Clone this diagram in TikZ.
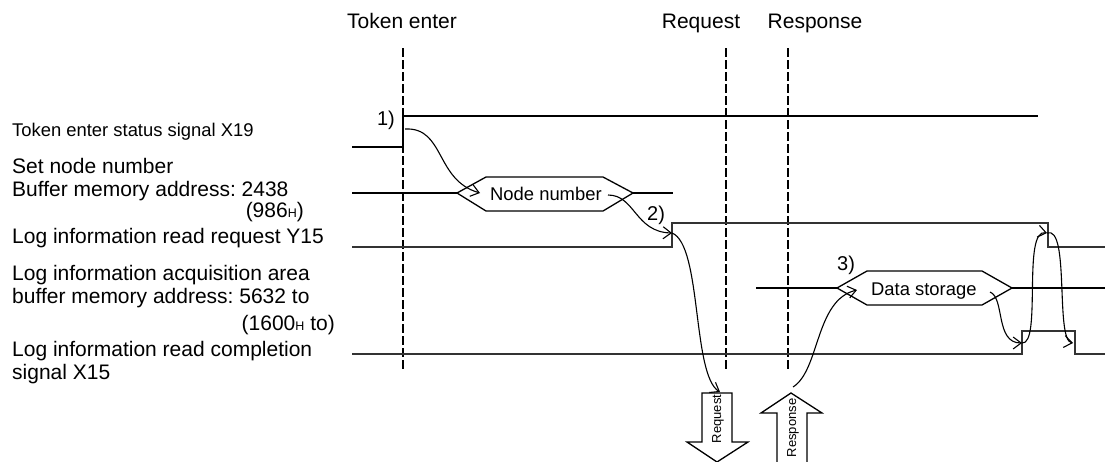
\documentclass[tikz,border=0pt]{standalone}
\usepackage{fontspec}
\setmainfont{Liberation Sans}
\usetikzlibrary{arrows.meta}
\frenchspacing
\newcommand{\bigtxt}{\fontsize{21}{24}\selectfont}
\newcommand{\smalltxt}{\fontsize{18.4}{21}\selectfont}
\newcommand{\tinytxt}{\fontsize{13}{15}\selectfont}
\newcommand{\subH}{{\fontsize{12.5}{14}\selectfont H}}
\tikzset{
  lbl/.style={inner sep=0pt, anchor=base west, font=\bigtxt},
  hdr/.style={inner sep=0pt, anchor=base, font=\bigtxt},
  guide/.style={line width=1.8pt, dash pattern=on 9pt off 3pt},
  sig/.style={line width=1.3pt, draw=black!80},
  bus/.style={line width=1.8pt},
  hexa/.style={line width=1.3pt, fill=white},
  flow/.style={line width=1.1pt, -{Straight Barb[length=8pt,width=12pt,line width=1.1pt]}},
  bigarrow/.style={line width=1.3pt, fill=white},
}
\begin{document}
\begin{tikzpicture}[x=1pt,y=-1pt]
\useasboundingbox (0,0) rectangle (1105,461);

% headers
\node[hdr] (hToken) at (402,28) {Token enter};
\node[hdr] (hReq) at (701,28) {Request};
\node[hdr] (hResp) at (815,28) {Response};

% guide lines
\coordinate (gT1) at (403,48); \coordinate (gT2) at (403,369);
\coordinate (gR1) at (726,48); \coordinate (gR2) at (726,369);
\coordinate (gS1) at (788,48); \coordinate (gS2) at (788,369);
\draw[guide] (gT1) -- (gT2);
\draw[guide] (gR1) -- (gR2);
\draw[guide] (gS1) -- (gS2);

% left labels
\node[lbl, font=\smalltxt] (lX19) at (12,136) {Token enter status signal X19};
\node[lbl] (lSet1) at (12,173) {Set node number};
\node[lbl] (lSet2) at (12,196) {Buffer memory address: 2438};
\node[lbl, anchor=base east] (lSet3) at (304,217) {(986\subH)};
\node[lbl] (lY15) at (12,243) {Log information read request Y15};
\node[lbl] (lAcq1) at (12,280) {Log information acquisition area};
\node[lbl] (lAcq2) at (12,303) {buffer memory address: 5632 to};
\node[lbl, anchor=base east] (lAcq3) at (335,330) {(1600\subH{} to)};
\node[lbl] (lX15a) at (12,356) {Log information read completion};
\node[lbl] (lX15b) at (12,379) {signal X15};

% X19 signal
\coordinate (x19a) at (352,147);
\coordinate (x19b) at (403,147);
\coordinate (x19c) at (403,116);
\coordinate (x19d) at (1038,116);
\draw[sig, draw=black] (x19a) -- (x19b) -- (x19c) -- (x19d);

% node number bus
\coordinate (nbA) at (352,193);
\coordinate (nbL) at (457,193);
\coordinate (nbR) at (633,193);
\coordinate (nbB) at (673,193);
\draw[bus] (nbA) -- (nbL);
\draw[bus] (nbR) -- (nbB);
\draw[hexa] (nbL) -- (486,177) -- (603,177) -- (nbR) -- (603,211) -- (486,211) -- cycle;
\node[inner sep=0pt, anchor=base west, font=\smalltxt] (nodenum) at (490,200) {Node number};

% Y15 signal
\coordinate (y15a) at (352,247);
\coordinate (y15b) at (672,247);
\coordinate (y15c) at (672,223);
\coordinate (y15d) at (1048,223);
\coordinate (y15e) at (1048,247);
\coordinate (y15f) at (1105,247);
\draw[sig] (y15a) -- (y15b) -- (y15c) -- (y15d) -- (y15e) -- (y15f);

% data storage bus
\coordinate (dbA) at (756,288);
\coordinate (dbL) at (837,288);
\coordinate (dbR) at (1012,288);
\coordinate (dbB) at (1105,288);
\draw[bus] (dbA) -- (dbL);
\draw[bus] (dbR) -- (dbB);
\draw[hexa] (dbL) -- (867,271) -- (982,271) -- (dbR) -- (982,305) -- (867,305) -- cycle;
\node[inner sep=0pt, anchor=base west, font=\smalltxt] (datast) at (871,295) {Data storage};

% X15 signal
\coordinate (x15a) at (352,354);
\coordinate (x15b) at (1022,354);
\coordinate (x15c) at (1022,331);
\coordinate (x15d) at (1075,331);
\coordinate (x15e) at (1075,354);
\coordinate (x15f) at (1105,354);
\draw[sig] (x15a) -- (x15b) -- (x15c) -- (x15d) -- (x15e) -- (x15f);

% step labels
\node[inner sep=0pt, anchor=base east, font=\fontsize{20}{22}\selectfont] (s1) at (395,125) {1)};
\node[inner sep=0pt, anchor=base west, font=\fontsize{20}{22}\selectfont] (s2) at (647,220) {2)};
\node[inner sep=0pt, anchor=base west, font=\fontsize{20}{22}\selectfont] (s3) at (837,270) {3)};

% hollow arrows
\draw[bigarrow] (702,393) -- (732,393) -- (732,442) -- (748,442) -- (717,462) -- (687,442) -- (702,442) -- cycle;
\node[rotate=90, inner sep=0pt, font=\tinytxt] (reqA) at (718,419) {Request};
\draw[bigarrow] (777,463) -- (777,413) -- (761,413) -- (791,393) -- (822,413) -- (807,413) -- (807,463);
\node[rotate=90, inner sep=0pt, font=\tinytxt] (respA) at (793,428) {Response};

% flow arrows
\coordinate (f1s) at (405,129);
\coordinate (f1e) at (480,193);
\coordinate (f2s) at (608,195);
\coordinate (f2e) at (672,233);
\coordinate (f3e) at (720,392);
\coordinate (f4s) at (793,387);
\coordinate (f4e) at (857,290);
\coordinate (f5s) at (990,292);
\coordinate (f5e) at (1022,343);
\coordinate (f6e) at (1047,233);
\coordinate (f7e) at (1073,343);
\draw[flow] (f1s) .. controls (445,127) and (435,180) .. (f1e);
\draw[flow] (f2s) .. controls (635,195) and (635,232) .. (f2e);
\draw[flow] (f2e) .. controls (702,245) and (692,375) .. (f3e);
\draw[flow] (f4s) .. controls (820,370) and (815,300) .. (f4e);
\draw[flow] (f5s) .. controls (1005,298) and (995,343) .. (f5e);
\draw[flow] (f5e) .. controls (1042,345) and (1022,228) .. (f6e);
\draw[flow] (f6e) .. controls (1070,225) and (1055,340) .. (f7e);
\end{tikzpicture}
\end{document}
